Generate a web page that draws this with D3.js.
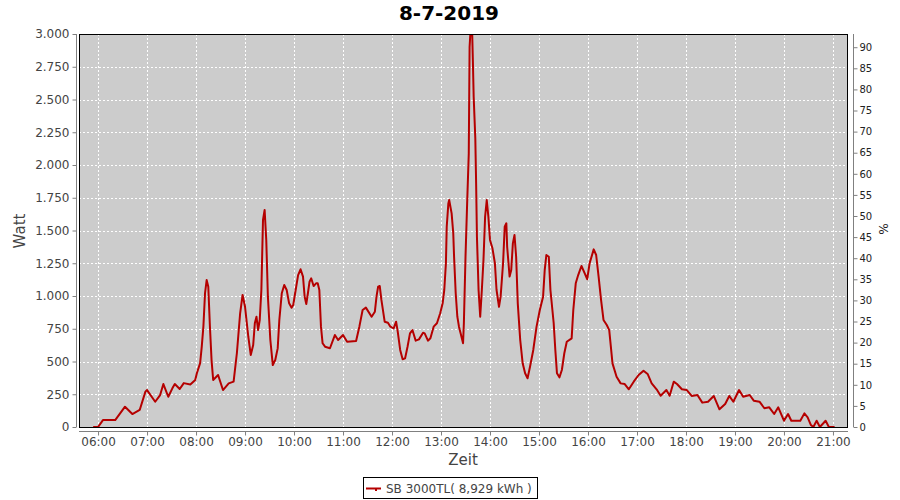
<!DOCTYPE html>
<html><head><meta charset="utf-8">
<script src="https://cdn.jsdelivr.net/npm/d3@7"></script>
<style>body{margin:0;background:#fff}svg{display:block}text{font-family:"DejaVu Sans",sans-serif}</style>
</head><body><svg id="c" width="900" height="500"></svg>
<script>
const title = "8-7-2019";
const seriesName = "SB 3000TL( 8,929 kWh )";
const times = ["05:54","06:00","06:06","06:21","06:33","06:42","06:51","06:58","07:00","07:10","07:16","07:20","07:26","07:31","07:34","07:40","07:45","07:53","07:59",
"08:01","08:05","08:07","08:09","08:11","08:13","08:15","08:17","08:19","08:21","08:27","08:33","08:40","08:46","08:50","08:54","08:57",
"09:00","09:04","09:07","09:10","09:12","09:14","09:16","09:18","09:20","09:22","09:24","09:26","09:28","09:31","09:34","09:37","09:40","09:42","09:45","09:48","09:51","09:54","09:57","09:59",
"10:02","10:05","10:08","10:11","10:13","10:15","10:17","10:19","10:21","10:24","10:27","10:29","10:31","10:33","10:35","10:38","10:44","10:50","10:54",
"11:00","11:05","11:16","11:20","11:24","11:28","11:35","11:39","11:41","11:43","11:45","11:47","11:51","11:55","11:58",
"12:02","12:05","12:07","12:10","12:13","12:16","12:19","12:22","12:25","12:29","12:33","12:38","12:40","12:44","12:47","12:51","12:55","12:59",
"13:02","13:04","13:06","13:07","13:09","13:10","13:13","13:15","13:16","13:18","13:20","13:22","13:24","13:27","13:28","13:30","13:32","13:34","13:35","13:36","13:38","13:39","13:40","13:42","13:43","13:44","13:46","13:48","13:50","13:52","13:54","13:56","13:58",
"14:00","14:03","14:06","14:08","14:11","14:13","14:16","14:18","14:20","14:21","14:24","14:26","14:28","14:30","14:32","14:34","14:37","14:40","14:43","14:46","14:49","14:53","14:57",
"15:01","15:05","15:07","15:09","15:12","15:14","15:18","15:20","15:22","15:25","15:28","15:31","15:34","15:40","15:42","15:45","15:48","15:52","15:56","15:59",
"16:02","16:07","16:10","16:13","16:16","16:19","16:23","16:26","16:28","16:30","16:35","16:40","16:45","16:50","16:56",
"17:02","17:08","17:13","17:18","17:24","17:29","17:36","17:40","17:45","17:49","17:55",
"18:01","18:07","18:14","18:20","18:27","18:34","18:41","18:48","18:53","18:58",
"19:05","19:10","19:18","19:23","19:30","19:36","19:42","19:48","19:53",
"20:00","20:05","20:09","20:20","20:25","20:29","20:33","20:36","20:40","20:44","20:51","20:55","21:02"];
const watts = [0,0,53,53,155,99,130,270,282,193,244,328,231,295,328,290,335,325,359,
410,488,613,766,1021,1122,1071,766,511,359,397,282,333,346,563,868,1008,
918,689,550,626,792,842,740,817,1046,1580,1657,1428,995,664,473,511,600,817,1021,1084,1046,944,911,931,
1046,1160,1204,1148,995,939,1021,1109,1135,1076,1097,1097,1046,766,639,613,601,702,664,
702,651,656,766,893,911,842,880,995,1071,1076,970,804,796,766,
753,804,728,588,517,524,613,715,740,659,669,720,715,659,677,766,792,868,
944,1046,1250,1529,1707,1733,1631,1479,1300,1021,842,766,715,639,792,1300,1707,2089,2900,3010,3050,2802,2521,2204,1860,1453,1046,842,1046,1275,1605,1733,1605,
1428,1364,1250,1046,918,995,1250,1529,1555,1376,1148,1198,1402,1466,1300,944,664,486,410,372,460,588,766,
893,995,1198,1313,1300,1046,792,588,410,379,435,563,651,677,893,1097,1160,1229,1173,1128,
1250,1356,1313,1148,970,817,779,740,613,486,384,333,328,288,346,
397,430,405,333,288,239,282,239,346,328,288,
282,237,244,186,193,237,135,176,237,193,
282,231,244,201,193,143,150,99,150,
48,99,48,48,104,74,15,0,48,0,48,0,0];
const xDomain = ["05:36:40","21:18:25"];
const xTicks = ["06:00","07:00","08:00","09:00","10:00","11:00","12:00","13:00","14:00","15:00","16:00","17:00","18:00","19:00","20:00","21:00"];
const wattTicks = [0,250,500,750,1000,1250,1500,1750,2000,2250,2500,2750,3000];
const pctTicks = [0,5,10,15,20,25,30,35,40,45,50,55,60,65,70,75,80,85,90];
const wattMax = 3000, pctMax = 93.13;

const svg = d3.select("#c");
const L = 79, R = 848, T = 34, B = 427;
const parse = s => { const p = s.split(":").map(Number); return new Date(2019,6,8,p[0],p[1],p[2]||0); };
const x = d3.scaleTime().domain(xDomain.map(parse)).range([L, R]);
const y = d3.scaleLinear().domain([0, wattMax]).range([B, T]);
const y2 = d3.scaleLinear().domain([0, pctMax]).range([B, T]);
const data = times.map((t,i)=>({t:parse(t), v:watts[i]}));

svg.append("text").attr("x",449).attr("y",20).attr("text-anchor","middle")
  .attr("font-size",20).attr("font-weight","bold").attr("fill","#000").text(title);

svg.append("rect").attr("x",L).attr("y",T).attr("width",R-L).attr("height",B-T).attr("fill","#cccccc");
const g = svg.append("g");
g.selectAll(".vg").data(xTicks.map(parse)).join("line")
  .attr("x1",d=>Math.round(x(d))+0.5).attr("x2",d=>Math.round(x(d))+0.5).attr("y1",T).attr("y2",B)
  .attr("stroke","#fff").attr("stroke-dasharray","2,2");
g.selectAll(".hg").data(wattTicks.slice(1,-1)).join("line")
  .attr("y1",d=>Math.round(y(d))+0.5).attr("y2",d=>Math.round(y(d))+0.5).attr("x1",L).attr("x2",R)
  .attr("stroke","#fff").attr("stroke-dasharray","2,2");

svg.append("clipPath").attr("id","clip").append("rect").attr("x",L).attr("y",T).attr("width",R-L).attr("height",B-T);
svg.append("path").datum(data).attr("clip-path","url(#clip)")
  .attr("d", d3.line().x(d=>x(d.t)).y(d=>y(d.v)))
  .attr("fill","none").attr("stroke","#b50000").attr("stroke-width",2).attr("stroke-linejoin","round");

svg.append("rect").attr("x",L+0.5).attr("y",T+0.5).attr("width",R-L-1).attr("height",B-T).attr("fill","none").attr("stroke","#000");

// left axis
const ax = d3.axisLeft(y).tickValues(wattTicks).tickSize(4).tickPadding(3)
  .tickFormat(d=>d>=1000? d3.format(",.0f")(d).replace(/,/g,".") : String(d));
const gl = svg.append("g").attr("transform","translate(76.5,0)").call(ax);
gl.select(".domain").attr("d",`M0,${T}V${B}`).attr("stroke","#808080");
gl.selectAll(".tick line").attr("stroke","#808080");
gl.selectAll(".tick text").attr("font-size",12).attr("fill","#444").attr("font-family","DejaVu Sans");

// right axis
const ar = d3.axisRight(y2).tickValues(pctTicks).tickSize(4).tickPadding(2);
const gr = svg.append("g").attr("transform","translate(853.5,0)").call(ar);
gr.select(".domain").attr("d",`M0,${T}V${B}`).attr("stroke","#808080");
gr.selectAll(".tick line").attr("stroke","#808080");
gr.selectAll(".tick text").attr("font-size",10).attr("fill","#222").attr("font-family","DejaVu Sans");

// bottom axis
const ab = d3.axisBottom(x).tickValues(xTicks.map(parse)).tickSize(4).tickPadding(2).tickFormat(d3.timeFormat("%H:%M"));
const gb = svg.append("g").attr("transform","translate(0,431.5)").call(ab);
gb.select(".domain").attr("d",`M${L},0H${R}`).attr("stroke","#808080");
gb.selectAll(".tick line").attr("stroke","#808080");
gb.selectAll(".tick text").attr("font-size",12).attr("fill","#444").attr("font-family","DejaVu Sans");

svg.append("text").attr("x",463).attr("y",465).attr("text-anchor","middle").attr("font-size",15).attr("fill","#444").text("Zeit");
svg.append("text").attr("transform","translate(25,231) rotate(-90)").attr("text-anchor","middle").attr("font-size",15).attr("fill","#444").text("Watt");
svg.append("text").attr("transform","translate(879,229) rotate(90)").attr("text-anchor","middle").attr("font-size",12).attr("fill","#222").text("%");

// legend
const lg = svg.append("g");
lg.append("rect").attr("x",363.5).attr("y",477.5).attr("width",174).attr("height",21).attr("fill","#fff").attr("stroke","#000");
lg.append("line").attr("x1",366).attr("x2",381).attr("y1",488.5).attr("y2",488.5).attr("stroke","#b50000").attr("stroke-width",2);
lg.append("rect").attr("x",375).attr("y",488).attr("width",2).attr("height",3).attr("fill","#b50000");
lg.append("text").attr("x",386).attr("y",493).attr("font-size",12).attr("fill","#444").text(seriesName);
</script></body></html>
